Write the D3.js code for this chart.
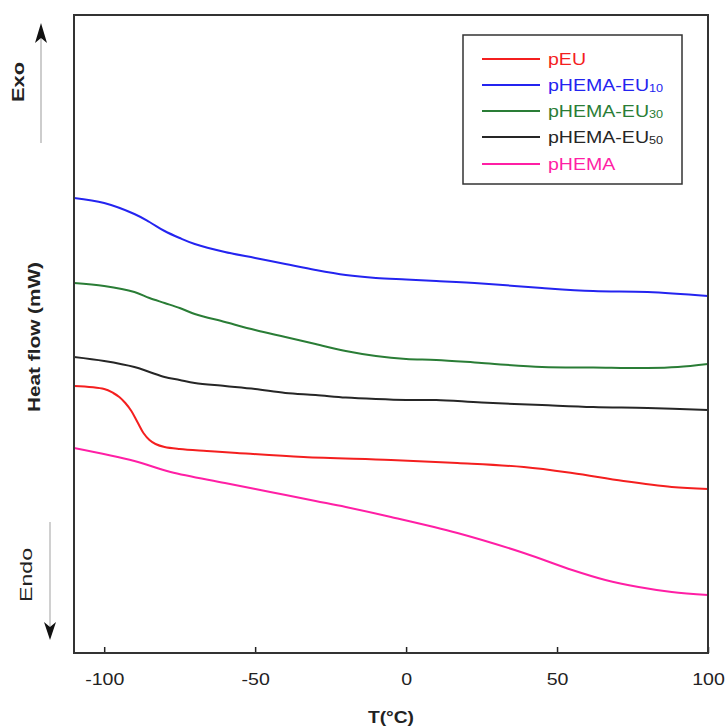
<!DOCTYPE html>
<html>
<head>
<meta charset="utf-8">
<script src="https://cdn.jsdelivr.net/npm/d3@7"></script>
<style>
  html, body { margin: 0; padding: 0; background: #fff; }
  svg { display: block; font-family: "Liberation Sans", Arial, sans-serif; }
</style>
</head>
<body>
<svg id="chart" width="727" height="728"></svg>
<script>
// ---- Data (heat flow in arbitrary units) ----
const xTicks = [-100, -50, 0, 50, 100];

const tBlue  = [-110,-100,-90,-85,-80,-75,-70,-60,-50,-40,-30,-20,-10,0,10,25,45,62,80,100];
const hBlue  = [4.55,4.50,4.39,4.31,4.22,4.15,4.09,4.01,3.95,3.89,3.83,3.78,3.75,3.735,3.72,3.695,3.65,3.62,3.61,3.57];

const tGreen = [-110,-100,-90,-85,-80,-75,-70,-60,-50,-40,-30,-20,-10,0,10,25,45,62,80,90,100];
const hGreen = [3.70,3.67,3.61,3.55,3.50,3.45,3.39,3.31,3.23,3.16,3.09,3.02,2.97,2.94,2.93,2.90,2.86,2.855,2.85,2.86,2.89];

const tBlack = [-110,-100,-90,-85,-80,-75,-70,-60,-50,-40,-30,-20,-10,0,10,25,45,62,80,100];
const hBlack = [2.96,2.92,2.86,2.81,2.76,2.73,2.70,2.67,2.64,2.60,2.58,2.555,2.54,2.53,2.53,2.505,2.48,2.46,2.45,2.43];

const tRed   = [-110,-100,-97,-95,-93,-91,-89,-87,-85,-83,-80,-75,-66,-56,-34,-5,17,39,55,72,88,100];
const hRed   = [2.67,2.64,2.60,2.56,2.50,2.42,2.31,2.20,2.13,2.09,2.06,2.04,2.02,2.00,1.96,1.93,1.90,1.86,1.80,1.72,1.66,1.64];

const tPink  = [-110,-90,-78,-60,-45,-30,-20,-5,17,39,55,66,77,88,100];
const hPink  = [2.05,1.92,1.81,1.70,1.61,1.52,1.46,1.36,1.20,1.00,0.83,0.73,0.66,0.61,0.58];

const seriesNames  = ["pEU", "pHEMA-EU", "pHEMA-EU", "pHEMA-EU", "pHEMA"];
const seriesSubs   = ["", "10", "30", "50", ""];
const seriesColors = ["#f41f1f", "#2424f0", "#2a7d36", "#262626", "#ff1fa5"];
const seriesT = [tRed, tBlue, tGreen, tBlack, tPink];
const seriesH = [hRed, hBlue, hGreen, hBlack, hPink];

// ---- Layout ----
const svg = d3.select("#chart");
const L = 74, R = 708, T = 15, B = 653;
const STRETCH = 1.15; // reference text is horizontally widened

function stretch(sel, f) {
  sel.each(function () {
    const w = this.getComputedTextLength();
    d3.select(this).attr("textLength", w * f).attr("lengthAdjust", "spacingAndGlyphs");
  });
}

const x = d3.scaleLinear().domain([-110, 100]).range([L, R]);
const y = d3.scaleLinear().domain([0, 6.38]).range([B, T]);

// clip
svg.append("defs").append("clipPath").attr("id", "clip")
  .append("rect").attr("x", L).attr("y", T).attr("width", R - L).attr("height", B - T);

// curves
const line = d3.line().x(d => x(d[0])).y(d => y(d[1])).curve(d3.curveCatmullRom.alpha(0.5));
const g = svg.append("g").attr("clip-path", "url(#clip)");
seriesT.forEach((ts, i) => {
  const pts = ts.map((t, j) => [t, seriesH[i][j]]);
  g.append("path").datum(pts)
    .attr("d", line)
    .attr("fill", "none")
    .attr("stroke", seriesColors[i])
    .attr("stroke-width", 2)
    .attr("stroke-linejoin", "round");
});

// bottom axis (ticks inward)
const xAxis = d3.axisBottom(x).tickValues(xTicks).tickSize(-6).tickPadding(20).tickFormat(d => String(d));
const ax = svg.append("g").attr("transform", `translate(0,${B})`).call(xAxis);
ax.select(".domain").remove();
ax.selectAll(".tick line").attr("stroke", "#222").attr("stroke-width", 1.5);
ax.selectAll(".tick text").attr("font-size", 17).attr("fill", "#222")
  .attr("font-family", "Liberation Sans, Arial, sans-serif")
  .call(stretch, STRETCH);

// frame
svg.append("rect").attr("x", L).attr("y", T).attr("width", R - L).attr("height", B - T)
  .attr("fill", "none").attr("stroke", "#333").attr("stroke-width", 2);

// axis titles
svg.append("text").attr("x", 391).attr("y", 723)
  .attr("text-anchor", "middle").attr("font-size", 16).attr("font-weight", "bold").attr("fill", "#222")
  .text("T(°C)").call(stretch, 1.2);

svg.append("text").attr("transform", "translate(40,337) rotate(-90)")
  .attr("text-anchor", "middle").attr("font-size", 16).attr("font-weight", "bold").attr("fill", "#222")
  .attr("textLength", 150).attr("lengthAdjust", "spacingAndGlyphs")
  .text("Heat flow (mW)");

svg.append("text").attr("transform", "translate(24,82) rotate(-90)")
  .attr("text-anchor", "middle").attr("font-size", 16).attr("font-weight", "bold").attr("fill", "#222")
  .attr("textLength", 40).attr("lengthAdjust", "spacingAndGlyphs")
  .text("Exo");

svg.append("text").attr("transform", "translate(32,575) rotate(-90)")
  .attr("text-anchor", "middle").attr("font-size", 17).attr("fill", "#222")
  .attr("textLength", 54).attr("lengthAdjust", "spacingAndGlyphs")
  .text("Endo");

// Exo / Endo arrows
svg.append("line").attr("x1", 41).attr("x2", 41).attr("y1", 143).attr("y2", 34)
  .attr("stroke", "#bdbdbd").attr("stroke-width", 1.5);
svg.append("path").attr("d", "M41,23 L35,43 L41,38 L47,43 Z").attr("fill", "#111");

svg.append("line").attr("x1", 50).attr("x2", 50).attr("y1", 522).attr("y2", 630)
  .attr("stroke", "#d0d0d0").attr("stroke-width", 2);
svg.append("path").attr("d", "M50,640 L44,622 L50,627 L56,622 Z").attr("fill", "#111");

// legend
const lg = svg.append("g");
lg.append("rect").attr("x", 463).attr("y", 35).attr("width", 219).attr("height", 149)
  .attr("fill", "#fff").attr("stroke", "#333").attr("stroke-width", 1.5);
const rowY = [59, 85, 111, 137, 164];
seriesNames.forEach((name, i) => {
  lg.append("line").attr("x1", 482).attr("x2", 540).attr("y1", rowY[i]).attr("y2", rowY[i])
    .attr("stroke", seriesColors[i]).attr("stroke-width", 2);
  const t = lg.append("text").attr("x", 548).attr("y", rowY[i] + 6)
    .attr("fill", seriesColors[i]);
  t.append("tspan").attr("font-size", 17).text(name);
  if (seriesSubs[i]) {
    t.append("tspan").attr("font-size", 11).attr("dy", 1).text(seriesSubs[i]);
  }
  const w = t.node().getComputedTextLength();
  t.attr("textLength", w * STRETCH).attr("lengthAdjust", "spacingAndGlyphs");
});
</script>
</body>
</html>
